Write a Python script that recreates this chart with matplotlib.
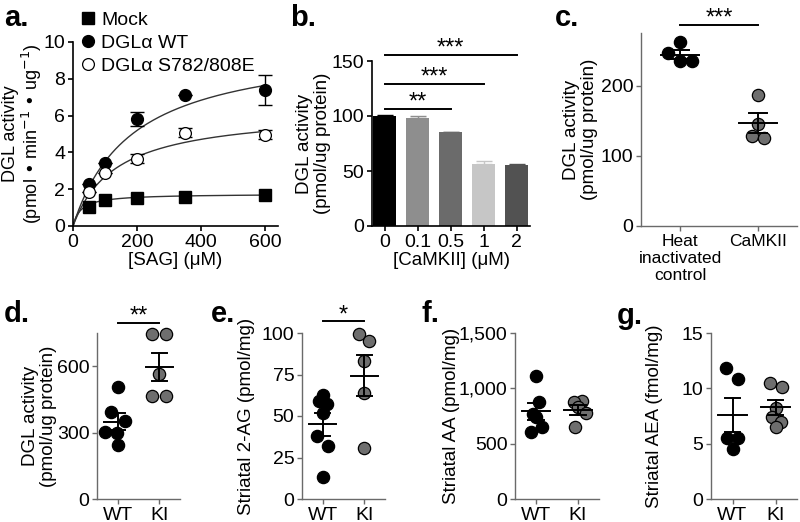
import numpy as np
import matplotlib
matplotlib.use("Agg")
import matplotlib.pyplot as plt

plt.rcParams["font.family"] = ["Liberation Sans", "DejaVu Sans"]
plt.rcParams["font.size"] = 13

# ---- a. DGL activity vs [SAG] ----
sag_um = [50, 100, 200, 350, 600]
mock_act = [1.05, 1.41, 1.50, 1.59, 1.66]
wt_act = [2.26, 3.44, 5.82, 7.10, 7.40]
wt_err = [0.0, 0.0, 0.40, 0.0, 0.80]
se_act = [1.84, 2.89, 3.65, 5.06, 4.97]
se_err = [0.0, 0.0, 0.25, 0.25, 0.25]
# Michaelis-Menten fits (Vmax, Km)
mock_fit = (1.75, 25.0)
wt_fit = (10.0, 185.0)
se_fit = (6.3, 135.0)

# ---- b. CaMKII dose ----
camk_labels = ["0", "0.1", "0.5", "1", "2"]
camk_act = [100.0, 98.0, 85.3, 56.7, 55.8]
camk_err = [0.6, 2.0, 0.6, 2.2, 0.9]
camk_stars = ["**", "***", "***"]   # vs 0 for 0.5, 1, 2

# ---- c. heat inactivated vs CaMKII ----
c_labels = ["Heat\ninactivated\ncontrol", "CaMKII"]
c_heat = [262, 246, 234.5, 234.5]
c_camk = [187, 145, 128, 126]

# ---- d-g. WT vs KI ----
d_wt = [506, 393, 353, 301, 296, 244]
d_ki = [745, 745, 563, 464, 464]
e_wt = [62.6, 59.2, 57.2, 52.0, 38.2, 32.0, 13.2]
e_ki = [99.2, 95.2, 83.2, 63.6, 30.6]
f_wt = [1110, 879, 768, 738, 648, 603]
f_ki = [888, 873, 828, 774, 648]
g_wt = [11.8, 10.8, 5.5, 5.5, 4.5]
g_ki = [10.5, 10.1, 8.25, 7.44, 6.93, 6.54]

# horizontal scatter offsets (layout only)
c_heat_dx = [0.0, -0.15, 0.0, 0.16]
c_camk_dx = [0.0, 0.0, -0.08, 0.08]
d_wt_dx = [0.0, -0.17, 0.17, -0.3, -0.02, 0.0]
d_ki_dx = [-0.17, 0.17, 0.0, -0.17, 0.17]
e_wt_dx = [0.0, -0.1, 0.1, 0.0, -0.14, 0.12, 0.0]
e_ki_dx = [-0.12, 0.12, 0.0, 0.0, 0.0]
f_wt_dx = [0.0, 0.08, -0.08, 0.0, 0.14, -0.12]
f_ki_dx = [0.1, -0.1, 0.0, 0.18, -0.08]
g_wt_dx = [-0.14, 0.12, -0.12, 0.12, 0.0]
g_ki_dx = [-0.12, 0.14, 0.0, -0.09, 0.12, 0.0]

W, H = 800, 522
fig = plt.figure(figsize=(W / 100, H / 100), dpi=100)
GRAY_AX = "#6a6a6a"
KI_COLOR = "#6e6e6e"
TICK_FS = 14
LABEL_FS = 13.5


def px_axes(left, top, right, bottom):
    return fig.add_axes([left / W, 1 - bottom / H, (right - left) / W, (bottom - top) / H])


def style(ax, color="black", lw=1.2):
    for s in ("top", "right"):
        ax.spines[s].set_visible(False)
    for s in ("left", "bottom"):
        ax.spines[s].set_color(color)
        ax.spines[s].set_linewidth(lw)
    ax.tick_params(length=3.5, width=lw, color=color, labelsize=TICK_FS, pad=2)


def panel_label(x, y, s):
    fig.text(x / W, 1 - y / H, s, fontsize=21, fontweight="bold", va="baseline")


def sig(ax, x0, x1, y, stars, off=4.5):
    ax.plot([x0, x1], [y, y], color="black", lw=1.4, clip_on=False)
    ax.annotate(stars, ((x0 + x1) / 2, y), xytext=(0, off), textcoords="offset points",
                ha="center", va="center", fontsize=17, annotation_clip=False)


def mean_sem(ax, x, vals, half_w, cap_w):
    vals = np.asarray(vals, float)
    m = vals.mean()
    s = vals.std(ddof=1) / np.sqrt(len(vals))
    ax.plot([x - half_w, x + half_w], [m, m], color="black", lw=1.4, zorder=4)
    ax.plot([x, x], [m - s, m + s], color="black", lw=1.4, zorder=4)
    for yy in (m - s, m + s):
        ax.plot([x - cap_w, x + cap_w], [yy, yy], color="black", lw=1.4, zorder=4)


def dots(ax, vals, dx, x, color):
    ax.scatter(x + np.asarray(dx), vals, s=78, color=color, edgecolor="black",
               linewidth=0.9, zorder=3, clip_on=False)


# ================= a =================
ax = px_axes(73, 42, 278, 226)
style(ax)
xx = np.linspace(0, 600, 200)
for (vmax, km) in (mock_fit, wt_fit, se_fit):
    ax.plot(xx, vmax * xx / (km + xx), color="#333333", lw=1.0)
ax.errorbar(sag_um, wt_act, yerr=wt_err, fmt="none", ecolor="black", elinewidth=1.0, capsize=5, capthick=1.0)
ax.errorbar(sag_um, se_act, yerr=se_err, fmt="none", ecolor="black", elinewidth=1.0, capsize=5, capthick=1.0)
ax.plot(sag_um, mock_act, "s", color="black", ms=8, label="Mock", zorder=3)
ax.plot(sag_um, wt_act, "o", color="black", ms=8.5, label="DGLα WT", zorder=3)
ax.plot(sag_um, se_act, "o", mfc="white", mec="black", mew=0.9, ms=8.5, label="DGLα S782/808E", zorder=3)
ax.set_xlim(0, 640)
ax.set_ylim(0, 10)
ax.set_xticks([0, 200, 400, 600])
ax.set_yticks([0, 2, 4, 6, 8, 10])
ax.set_xlabel("[SAG] (μM)", fontsize=LABEL_FS, labelpad=1)
ax.set_ylabel("DGL activity\n(pmol • min$^{-1}$ • ug$^{-1}$)", fontsize=13, linespacing=1.05)
ax.yaxis.set_label_coords((44 - 73) / 205, 0.5)
ax.legend(loc="upper left", bbox_to_anchor=(80 / W, 1 - 11 / H), bbox_transform=fig.transFigure,
          frameon=False, fontsize=14, handlelength=0.8, handletextpad=0.3, labelspacing=0.28,
          borderaxespad=0, borderpad=0)
panel_label(4, 26, "a.")

# ================= b =================
ax = px_axes(372, 61, 530, 226)
style(ax)
bar_colors = ["#000000", "#8e8e8e", "#6b6b6b", "#c6c6c6", "#525252"]
xpos = np.arange(len(camk_labels))
ax.bar(xpos, camk_act, width=0.7, color=bar_colors, zorder=2)
for i in xpos:
    ax.errorbar(i, camk_act[i], yerr=[[0], [camk_err[i]]], fmt="none", ecolor=bar_colors[i],
                elinewidth=1.0, capsize=6, capthick=1.0, zorder=1)
ax.set_xlim(-0.39, 4.4)
ax.set_ylim(0, 150)
ax.set_yticks([0, 50, 100, 150])
ax.set_xticks(xpos)
ax.set_xticklabels(camk_labels)
ax.set_xlabel("[CaMKII] (μM)", fontsize=LABEL_FS, labelpad=1)
ax.set_ylabel("DGL activity\n(pmol/ug protein)", fontsize=LABEL_FS, linespacing=1.05)
ax.yaxis.set_label_coords((331 - 372) / 158, 0.5)
for j, (k, st) in enumerate(zip([2, 3, 4], camk_stars)):
    sig(ax, 0, k, [106.6, 129.0, 155.4][j], st)
panel_label(290, 26, "b.")


# ================= c-g scatter panels =================
def scatter_panel(box, a_vals, b_vals, a_dx, b_dx, ylim, yticks, yticklabels, xlabels,
                  ylabel, label_right, half_w, cap_w, xlim=(-0.5, 1.5)):
    ax = px_axes(*box)
    style(ax, color=GRAY_AX, lw=1.0)
    ax.tick_params(labelcolor="black")
    dots(ax, a_vals, a_dx, 0, "black")
    dots(ax, b_vals, b_dx, 1, KI_COLOR)
    mean_sem(ax, 0, a_vals, half_w, cap_w)
    mean_sem(ax, 1, b_vals, half_w, cap_w)
    ax.set_xlim(*xlim)
    ax.set_ylim(*ylim)
    ax.set_yticks(yticks)
    ax.set_yticklabels(yticklabels)
    ax.set_xticks([0, 1])
    ax.set_xticklabels(xlabels)
    ax.set_ylabel(ylabel, fontsize=LABEL_FS, linespacing=1.05)
    ax.yaxis.set_label_coords((label_right - box[0]) / (box[2] - box[0]), 0.5)
    return ax


ax = scatter_panel((641, 33, 797, 226), c_heat, c_camk, c_heat_dx, c_camk_dx, (0, 275),
                   [0, 100, 200], ["0", "100", "200"], c_labels,
                   "DGL activity\n(pmol/ug protein)", 598, 0.24, 0.12)
ax.tick_params(axis="x", labelsize=12.5)
sig(ax, 0, 1, 286, "***")
panel_label(555, 26, "c.")

ax = scatter_panel((97, 333, 180, 499), d_wt, d_ki, d_wt_dx, d_ki_dx, (0, 750),
                   [0, 300, 600], ["0", "300", "600"], ["WT", "KI"],
                   "DGL activity\n(pmol/ug protein)", 57, 0.33, 0.18)
sig(ax, 0, 1, 796, "**")
panel_label(4, 322, "d.")

ax = scatter_panel((302, 333, 385, 499), e_wt, e_ki, e_wt_dx, e_ki_dx, (0, 100),
                   [0, 25, 50, 75, 100], ["0", "25", "50", "75", "100"], ["WT", "KI"],
                   "Striatal 2-AG (pmol/mg)", 255, 0.33, 0.18)
sig(ax, 0, 1, 107, "*")
panel_label(211, 322, "e.")

ax = scatter_panel((515, 333, 599, 499), f_wt, f_ki, f_wt_dx, f_ki_dx, (0, 1500),
                   [0, 500, 1000, 1500], ["0", "500", "1,000", "1,500"], ["WT", "KI"],
                   "Striatal AA (pmol/mg)", 460, 0.33, 0.18)
panel_label(422, 322, "f.")

ax = scatter_panel((711, 333, 797, 499), g_wt, g_ki, g_wt_dx, g_ki_dx, (0, 15),
                   [0, 5, 10, 15], ["0", "5", "10", "15"], ["WT", "KI"],
                   "Striatal AEA (fmol/mg)", 663, 0.33, 0.18)
panel_label(617, 324, "g.")

fig.savefig("out.png", dpi=100)
